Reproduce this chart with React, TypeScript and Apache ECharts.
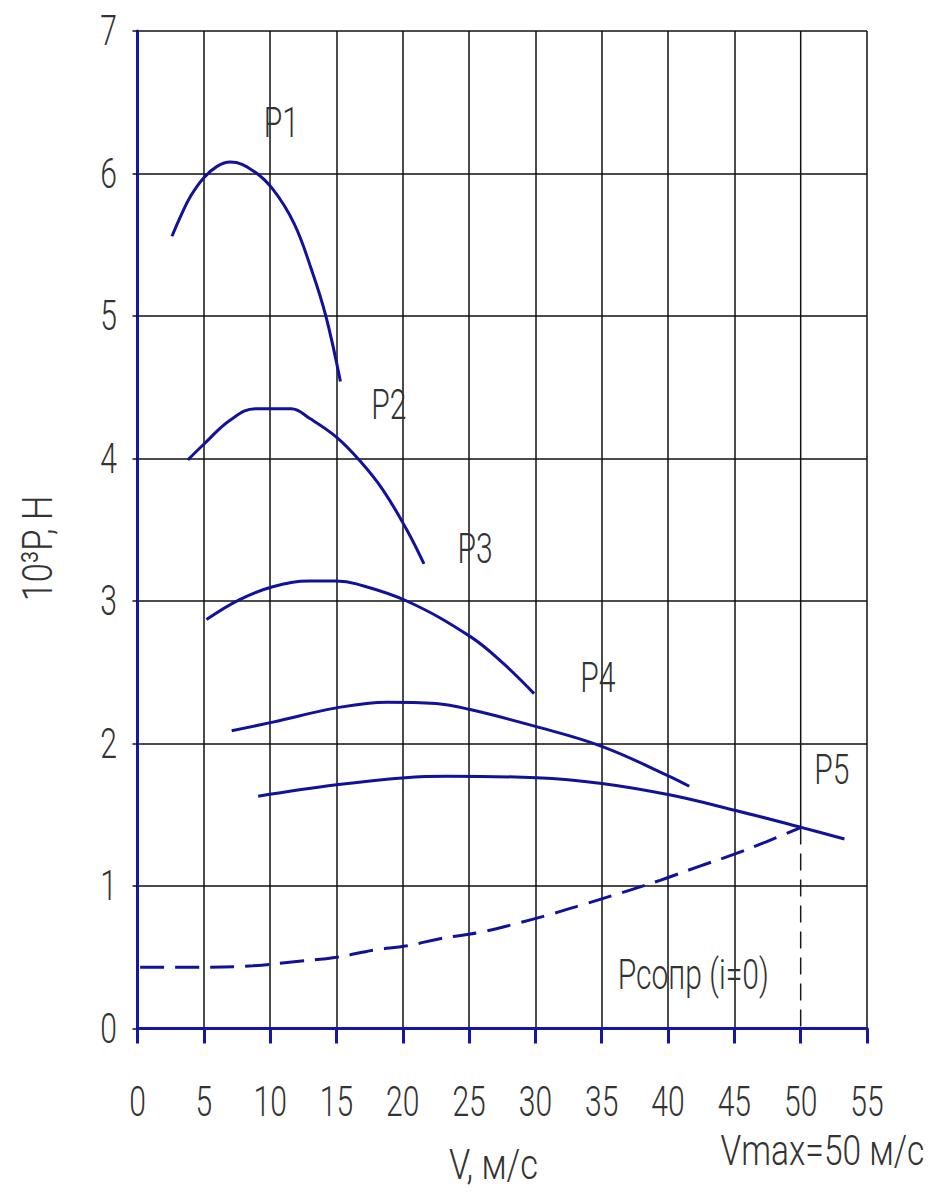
import React, { useEffect, useRef } from "react";
import * as echarts from "echarts";

// Axis ticks
const xMin = 0, xMax = 55, xStep = 5;
const yMin = 0, yMax = 7, yStep = 1;
const xTicks = [0, 5, 10, 15, 20, 25, 30, 35, 40, 45, 50, 55];
const yTicks = [0, 1, 2, 3, 4, 5, 6, 7];

// Traction force curves P1..P5 (V, м/с ; 10^3 P, Н)
const p1: [number, number][] = [[2.6, 5.56], [3.3, 5.71], [4.0, 5.84], [5.0, 5.97], [6.0, 6.05], [7.0, 6.08], [8.7, 6.02], [10.2, 5.89], [11.8, 5.65], [13.1, 5.33], [14.2, 5.0], [15.3, 4.54]];
const p2: [number, number][] = [[3.8, 3.99], [5.0, 4.10], [7.0, 4.27], [8.9, 4.35], [11.6, 4.35], [13.0, 4.28], [15.0, 4.15], [16.8, 3.98], [18.5, 3.78], [20.3, 3.50], [21.6, 3.26]];
const p3: [number, number][] = [[5.2, 2.87], [7.7, 3.01], [10.2, 3.10], [13.0, 3.14], [15.0, 3.14], [16.5, 3.12], [20.3, 3.0], [25.1, 2.75], [27.6, 2.56], [29.9, 2.35]];
const p4: [number, number][] = [[7.1, 2.09], [10.2, 2.15], [15.0, 2.25], [18.8, 2.29], [22.5, 2.28], [25.0, 2.24], [30.0, 2.12], [35.0, 1.98], [40.1, 1.77], [41.6, 1.70]];
const p5: [number, number][] = [[9.1, 1.63], [15.0, 1.71], [20.2, 1.76], [23.4, 1.77], [30.1, 1.76], [35.0, 1.72], [40.1, 1.64], [45.1, 1.53], [50.1, 1.41], [53.3, 1.33]];
// Resistance force (dashed)
const pResist: [number, number][] = [[0.2, 0.43], [5.0, 0.43], [8.7, 0.44], [12.0, 0.47], [15.0, 0.50], [17.8, 0.55], [20.3, 0.58], [22.8, 0.63], [25.8, 0.675], [28.3, 0.73], [31.1, 0.80], [33.6, 0.87], [36.4, 0.95], [39.4, 1.04], [42.4, 1.14], [44.9, 1.22], [47.4, 1.31], [50.0, 1.41]];
// Vmax marker: solid grid part above the intersection, dashed drop line below it
const vmaxX = 50;
const vmaxGrid: [number, number][] = [[vmaxX, 7], [vmaxX, 1.41]];
const vmaxLine: [number, number][] = [[vmaxX, 1.41], [vmaxX, 0]];

// Curve annotations (data coordinates)
const annNames = ["P1", "P2", "P3", "P4", "P5", "Рсопр (i=0)"];
const annX = [10.85, 18.95, 25.45, 34.7, 52.35, 41.9];
const annY = [6.36, 4.38, 3.37, 2.46, 1.82, 0.38];

const xAxisTitle = "V, м/с";
const yAxisTitle = "10³P, Н";
const vmaxText = "Vmax=50 м/с";

const FONT = 'Roboto, "Noto Sans", "DejaVu Sans", sans-serif';
const FS = 43;
const TEXT = "#333333";
const AXIS_BLUE = "#1515a8";
const CURVE = "#11119a";
const GRID = "#111111";

export default function App() {
  const ref = useRef<HTMLDivElement>(null);
  useEffect(() => {
    if (!ref.current) return;
    const chart = echarts.init(ref.current, undefined, { renderer: "svg" });
    const curve = (name: string, data: [number, number][]) => ({
      name,
      type: "line",
      data,
      smooth: 0.4,
      symbol: "none",
      lineStyle: { color: CURVE, width: 3 },
    });
    chart.setOption({
      animation: false,
      backgroundColor: "#ffffff",
      grid: { left: 137.5, right: 64, top: 31, bottom: 164.5 },
      xAxis: {
        type: "value",
        min: xMin,
        max: xMax,
        interval: xStep,
        axisLine: { show: true, lineStyle: { color: AXIS_BLUE, width: 3 } },
        axisTick: { show: true, length: 15, lineStyle: { color: AXIS_BLUE, width: 3 } },
        axisLabel: { show: false },
        splitLine: {
          show: true,
          lineStyle: {
            color: xTicks.map((v) => (v === vmaxX ? "rgba(0,0,0,0)" : GRID)),
            width: 1.5,
          },
        },
      },
      yAxis: {
        type: "value",
        min: yMin,
        max: yMax,
        interval: yStep,
        axisLine: { show: true, lineStyle: { color: AXIS_BLUE, width: 3 } },
        axisTick: { show: true, length: 5, lineStyle: { color: GRID, width: 1.5 } },
        axisLabel: { show: false },
        splitLine: { show: true, lineStyle: { color: GRID, width: 1.5 } },
      },
      series: [
        {
          name: "grid50",
          type: "line",
          data: vmaxGrid,
          symbol: "none",
          lineStyle: { color: GRID, width: 1.5 },
        },
        {
          name: "Vmax",
          type: "line",
          data: vmaxLine,
          symbol: "none",
          lineStyle: { color: "#1a1a1a", width: 1.5, type: [17, 9] },
        },
        curve("P1", p1),
        curve("P2", p2),
        curve("P3", p3),
        curve("P4", p4),
        curve("P5", p5),
        {
          name: "Рсопр",
          type: "line",
          data: pResist,
          smooth: 0.4,
          symbol: "none",
          lineStyle: { color: CURVE, width: 3, type: [24, 11] },
        },
      ],
    });

    // Condensed drafting-style texts, placed through the chart's own scales
    const toPx = (x: number, y: number) =>
      chart.convertToPixel({ gridIndex: 0 }, [x, y]) as number[];
    const txt = (
      text: string,
      x: number,
      y: number,
      align: string,
      sx: number,
      rotation = 0
    ) => ({
      type: "text",
      x,
      y,
      rotation,
      scaleX: sx,
      silent: true,
      style: {
        text,
        fontFamily: FONT,
        fontWeight: 300,
        fontSize: FS,
        fill: TEXT,
        align,
        verticalAlign: "middle",
      },
    });
    const els: any[] = [];
    xTicks.forEach((v) => {
      const p = toPx(v, yMin);
      els.push(txt(String(v), p[0], p[1] + 73.5, "center", 0.7));
    });
    yTicks.forEach((v) => {
      const p = toPx(xMin, v);
      els.push(txt(String(v), p[0] - 20.5, p[1], "right", 0.7));
    });
    annNames.forEach((n, i) => {
      const p = toPx(annX[i], annY[i]);
      els.push(txt(n, p[0], p[1], "center", 0.7));
    });
    const origin = toPx(xMin, yMin);
    els.push(txt(xAxisTitle, origin[0] + 356, origin[1] + 136.5, "center", 0.8));
    els.push(txt(vmaxText, origin[0] + 685, origin[1] + 121.5, "center", 0.78));
    els.push(txt(yAxisTitle, origin[0] - 99.5, origin[1] - 480, "center", 0.8, Math.PI / 2));
    chart.setOption({ graphic: els });

    return () => chart.dispose();
  }, []);
  return (
    <div
      ref={ref}
      style={{ position: "fixed", left: 0, top: 0, width: 931, height: 1193, background: "#fff" }}
    />
  );
}
